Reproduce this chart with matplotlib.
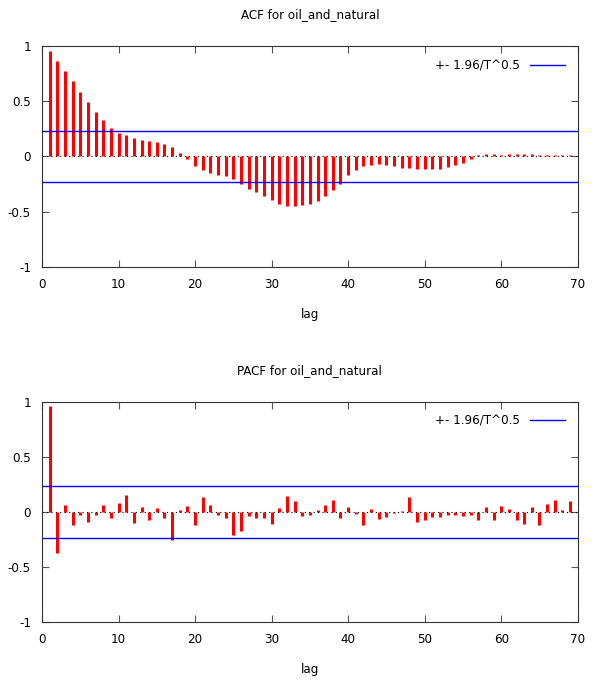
import numpy as np
import matplotlib
matplotlib.use("Agg")
import matplotlib.pyplot as plt

plt.rcParams['font.family'] = ['DejaVu Sans']
plt.rcParams['font.stretch'] = 'condensed'

# data
lags = list(range(1, 70))
acf = [0.958, 0.867, 0.777, 0.681, 0.587, 0.494, 0.407, 0.331, 0.262, 0.214,
       0.19, 0.169, 0.15, 0.139, 0.127, 0.114, 0.084, 0.036, -0.025, -0.087,
       -0.12, -0.148, -0.169, -0.18, -0.2, -0.25, -0.29, -0.32, -0.355, -0.39,
       -0.43, -0.45, -0.45, -0.44, -0.43, -0.40, -0.36, -0.30, -0.25, -0.17,
       -0.12, -0.09, -0.075, -0.072, -0.075, -0.09, -0.105, -0.105, -0.11, -0.115,
       -0.117, -0.11, -0.096, -0.075, -0.06, -0.02, 0.012, 0.018, 0.02, 0.015,
       0.02, 0.018, 0.022, 0.02, 0.015, 0.012, 0.015, 0.012, 0.01]
pacf = [0.96, -0.37, 0.066, -0.115, -0.03, -0.094, -0.03, 0.066, -0.054, 0.08,
        0.157, -0.1, 0.045, -0.07, 0.036, -0.054, -0.257, 0.02, 0.057, -0.12,
        0.136, 0.06, -0.03, -0.055, -0.21, -0.175, -0.035, -0.055, -0.055, -0.11,
        0.036, 0.14, 0.097, -0.035, -0.03, 0.015, 0.066, 0.105, -0.057, 0.042,
        -0.02, -0.118, 0.027, -0.063, -0.05, -0.01, 0.01, 0.136, -0.094, -0.07,
        -0.045, -0.045, -0.03, -0.03, -0.035, -0.03, -0.075, 0.045, -0.07, 0.05,
        0.027, -0.07, -0.106, 0.042, -0.124, 0.072, 0.11, 0.02, 0.1]
band = 1.96 / np.sqrt(70)

fig = plt.figure(figsize=(5.95, 6.82), dpi=100)
ax1 = fig.add_axes([0.0706, 0.6085, 0.9004, 0.3241])
ax2 = fig.add_axes([0.0706, 0.088, 0.9004, 0.323])

for ax, vals, title in [(ax1, acf, 'ACF for oil_and_natural'),
                        (ax2, pacf, 'PACF for oil_and_natural')]:
    ax.vlines(lags, 0, vals, color='red', linewidth=2.2)
    ax.axhline(0, color='black', linestyle=(0, (1, 3)), linewidth=0.8)
    ax.axhline(band, color='blue', linewidth=1, label='+- 1.96/T^0.5')
    ax.axhline(-band, color='blue', linewidth=1)
    ax.set_xlim(0, 70)
    ax.set_ylim(-1, 1)
    ax.set_xticks(range(0, 71, 10))
    ax.set_yticks([-1, -0.5, 0, 0.5, 1])
    ax.set_yticklabels(['-1', '-0.5', '0', '0.5', '1'])
    ax.tick_params(direction='in', top=True, right=True, length=5,
                   color='#555555', labelsize=9.5, pad=8)
    for s in ax.spines.values():
        s.set_color('#333333')
    ax.set_title(title, fontsize=9.5, pad=20)
    ax.set_xlabel('lag', fontsize=9.5, labelpad=12)
    ax.legend(loc='upper right', frameon=False, markerfirst=False,
              fontsize=9.5, handlelength=2.6, borderaxespad=0.6)

fig.savefig('out.png', dpi=100)
